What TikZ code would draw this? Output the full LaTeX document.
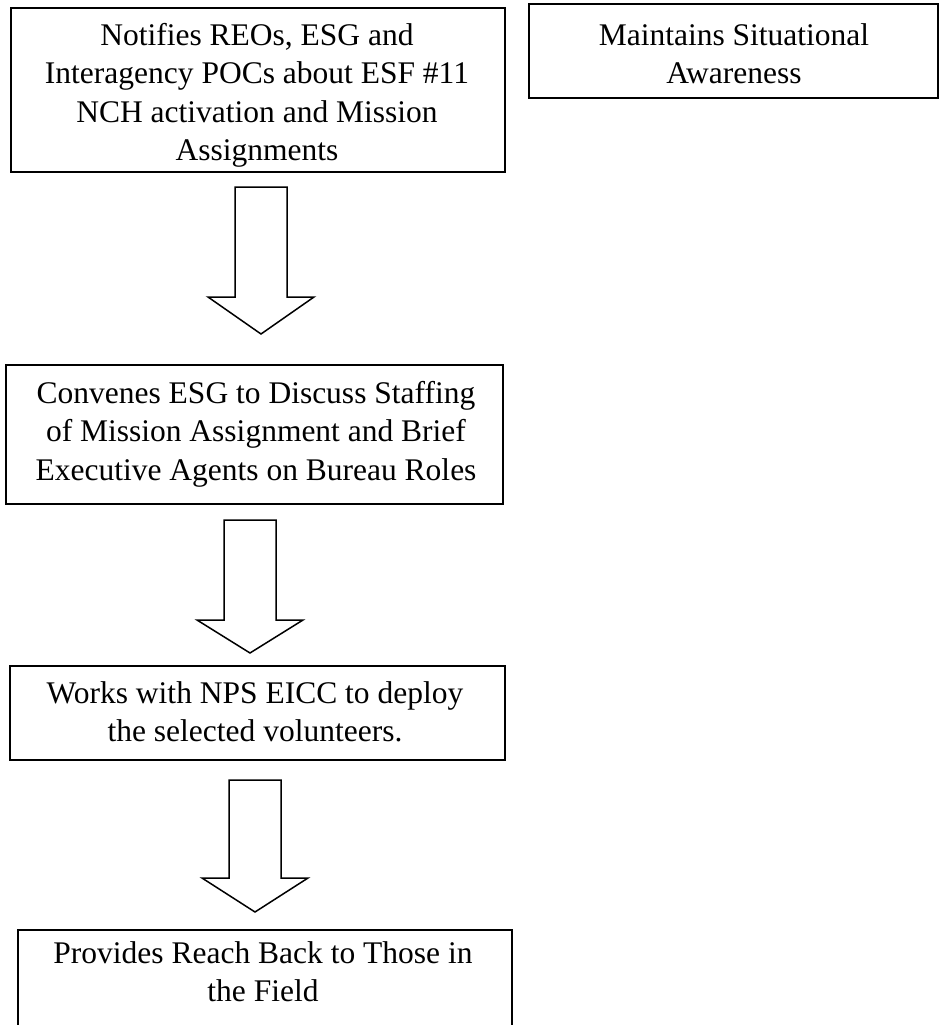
\documentclass[tikz,border=0pt]{standalone}
\usepackage{fontspec}
\setmainfont{Liberation Serif}
\tikzset{
  boxnode/.style={draw, line width=1.8pt, rectangle, inner sep=0pt, anchor=north west},
  boxtext/.style={align=center, inner sep=0pt, anchor=north, font=\fontsize{31.5}{38.5}\selectfont},
  blockarrow/.style={draw, line width=1.5pt, line join=miter, fill=white}
}
\newcommand\flowarrow[4]{% cx, shaft top, head base, tip
  \draw[blockarrow] (#1-26,#2) -- (#1+26,#2) -- (#1+26,#3) -- (#1+53,#3) -- (#1,#4) -- (#1-53,#3) -- (#1-26,#3) -- cycle;}
\begin{document}
\begin{tikzpicture}[x=1pt,y=-1pt]
\clip (0,0) rectangle (940,1025);
\fill[white] (0,0) rectangle (940,1025);
% boxes
\node[boxnode, minimum width=494pt, minimum height=164pt] (b1) at (10,7) {};
\node[boxnode, minimum width=409pt, minimum height=94pt] (b2) at (528,3) {};
\node[boxnode, minimum width=497pt, minimum height=139pt] (b3) at (5,364) {};
\node[boxnode, minimum width=495pt, minimum height=94pt] (b4) at (9,665) {};
\node[boxnode, minimum width=494pt, minimum height=130pt] (b5) at (17,929) {};
% texts
\node[boxtext] (t1) at (257,45-26.95) {\strut Notifies REOs, ESG and\\Interagency POCs about ESF \#11\\NCH activation and Mission\\Assignments};
\node[boxtext] (t2) at (734,45-26.95) {\strut Maintains Situational\\Awareness};
\node[boxtext] (t3) at (256,403-26.95) {\strut Convenes ESG to Discuss Staffing\\of Mission Assignment and Brief\\Executive Agents on Bureau Roles};
\node[boxtext] (t4) at (255,703-26.95) {\strut Works with NPS EICC to deploy\\the selected volunteers.};
\node[boxtext] (t5) at (263,963-26.95) {\strut Provides Reach Back to Those in\\the Field};
% arrows
\flowarrow{261}{187}{297}{334}
\flowarrow{250}{520}{620}{653}
\flowarrow{255}{780}{878}{912}
\end{tikzpicture}
\end{document}
